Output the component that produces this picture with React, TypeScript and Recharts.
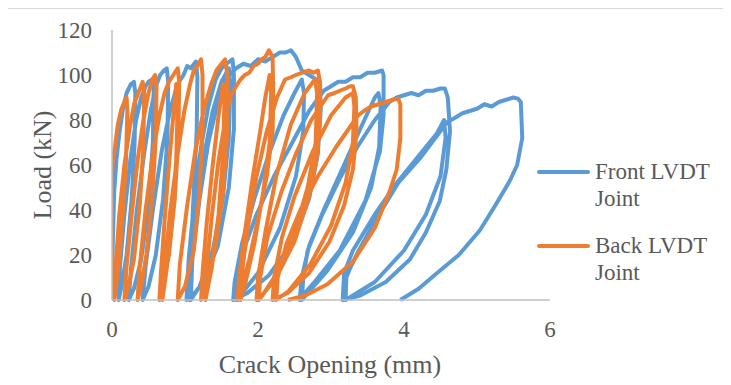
import { LineChart, Line, XAxis, YAxis, Legend, Label } from "recharts";

// crack opening (mm), load (kN), one array per cycle
const frontC1 = [
  [0, 0], [0.01, 25], [0.03, 48], [0.06, 62], [0.1, 74], [0.15, 85], [0.2, 92], [0.26, 96], [0.3, 97],
  [0.32, 92], [0.31, 70], [0.27, 45], [0.2, 20], [0.13, 6], [0.09, 0],
];
const frontC2 = [
  [0.11, 15], [0.17, 38], [0.25, 62], [0.33, 80], [0.4, 90], [0.46, 95], [0.5, 97], [0.55, 98],
  [0.57, 93], [0.56, 70], [0.5, 42], [0.4, 18], [0.3, 5], [0.23, 0],
];
const frontC3 = [
  [0.26, 14], [0.34, 40], [0.44, 65], [0.53, 84], [0.6, 95], [0.66, 100], [0.71, 102], [0.75, 103],
  [0.77, 97], [0.76, 72], [0.7, 45], [0.6, 20], [0.5, 6], [0.42, 0],
];
const frontC4 = [
  [0.46, 15], [0.56, 40], [0.68, 66], [0.8, 85], [0.9, 96], [0.98, 100], [1.03, 104], [1.08, 103], [1.15, 106],
  [1.17, 99], [1.16, 75], [1.12, 48], [1.08, 22], [1.04, 6], [1.02, 0],
];
const frontC5 = [
  [1.05, 18], [1.13, 45], [1.22, 68], [1.32, 86], [1.42, 98], [1.5, 103], [1.57, 105], [1.65, 107],
  [1.67, 100], [1.67, 76], [1.6, 50], [1.45, 24], [1.25, 8], [1.06, 0],
];
const frontC5b = [
  [1.08, 14], [1.16, 40], [1.26, 64], [1.38, 84], [1.5, 97], [1.6, 103],
  [1.62, 96], [1.6, 72], [1.52, 46], [1.38, 22], [1.2, 6], [1.08, 0],
];
const frontC6 = [
  [1.1, 18], [1.2, 45], [1.32, 70], [1.45, 88], [1.58, 99], [1.7, 103], [1.8, 105], [1.9, 104], [2.0, 107],
  [2.1, 106], [2.2, 108], [2.3, 110], [2.38, 110], [2.45, 111], [2.52, 108], [2.6, 102], [2.7, 100], [2.8, 98],
  [2.85, 96], [2.86, 85], [2.82, 65], [2.7, 45], [2.48, 26], [2.15, 11], [1.85, 3], [1.66, 0],
];
const frontC6b = [
  [1.68, 8], [1.78, 25], [1.95, 45], [2.15, 65], [2.35, 82], [2.5, 92], [2.6, 98],
  [2.63, 92], [2.62, 75], [2.52, 55], [2.3, 32], [2.0, 12], [1.78, 3], [1.7, 0],
];
const frontC7 = [
  [1.72, 10], [1.8, 22], [1.98, 38], [2.22, 55], [2.47, 70], [2.7, 84], [2.9, 93], [3.0, 95], [3.1, 97],
  [3.2, 97], [3.3, 99], [3.4, 99], [3.5, 101], [3.6, 101], [3.7, 102],
  [3.72, 100], [3.72, 82], [3.67, 66], [3.47, 44], [3.12, 22], [2.8, 9], [2.64, 3], [2.57, 0],
];
const frontC7b = [
  [2.6, 10], [2.7, 24], [2.9, 40], [3.15, 58], [3.4, 76], [3.6, 90], [3.65, 92],
  [3.68, 86], [3.66, 68], [3.55, 50], [3.3, 30], [2.95, 13], [2.68, 3], [2.6, 0],
];
const frontC8 = [
  [2.62, 10], [2.68, 22], [2.88, 38], [3.12, 54], [3.36, 68], [3.6, 80], [3.8, 88], [3.9, 90], [4.0, 91],
  [4.1, 92], [4.2, 91], [4.3, 93], [4.4, 93], [4.5, 94], [4.56, 94],
  [4.6, 90], [4.63, 75], [4.58, 58], [4.49, 44], [4.3, 30], [4.08, 18], [3.75, 8], [3.4, 2], [3.16, 0],
];
const frontC8b = [
  [3.18, 12], [3.3, 22], [3.6, 38], [3.9, 52], [4.2, 64], [4.45, 74], [4.55, 80],
  [4.57, 72], [4.5, 55], [4.3, 38], [4.0, 22], [3.6, 8], [3.25, 1], [3.2, 0],
];
const frontC9 = [
  [3.21, 10], [3.26, 14], [3.38, 22], [3.62, 36], [3.92, 52], [4.22, 63], [4.59, 79], [4.7, 81], [4.8, 83],
  [4.9, 84], [5.0, 85], [5.1, 87], [5.2, 86], [5.3, 88], [5.4, 89], [5.5, 90], [5.56, 89.5],
  [5.6, 88], [5.62, 72], [5.55, 60], [5.45, 53], [5.25, 42], [5.04, 31], [4.75, 20], [4.49, 13], [4.2, 5], [3.95, 0],
];

const backC1 = [
  [0, 0], [0, 30], [0, 55], [0.01, 62], [0.04, 68], [0.08, 78], [0.13, 85], [0.17, 88], [0.2, 90],
  [0.21, 84], [0.19, 60], [0.14, 35], [0.09, 15], [0.05, 4], [0.03, 0],
];
const backC2 = [
  [0.05, 15], [0.1, 38], [0.17, 60], [0.25, 78], [0.31, 88], [0.36, 92], [0.42, 97],
  [0.44, 92], [0.43, 68], [0.38, 42], [0.3, 18], [0.22, 5], [0.17, 0],
];
const backC3 = [
  [0.2, 15], [0.27, 38], [0.35, 62], [0.43, 80], [0.5, 92], [0.55, 98], [0.59, 100],
  [0.61, 95], [0.6, 72], [0.55, 45], [0.47, 20], [0.4, 6], [0.35, 0],
];
const backC4 = [
  [0.38, 15], [0.46, 40], [0.56, 65], [0.65, 82], [0.72, 92], [0.78, 97], [0.84, 100], [0.9, 103],
  [0.92, 97], [0.91, 72], [0.86, 45], [0.78, 20], [0.7, 6], [0.65, 0],
];
const backC4b = [
  [0.67, 12], [0.72, 35], [0.78, 60], [0.84, 82], [0.88, 96],
  [0.9, 88], [0.88, 62], [0.82, 36], [0.75, 14], [0.69, 0],
];
const backC5 = [
  [0.72, 15], [0.8, 40], [0.9, 65], [0.99, 84], [1.07, 96], [1.12, 102], [1.17, 104], [1.22, 107],
  [1.24, 100], [1.24, 75], [1.2, 48], [1.12, 22], [1.0, 6], [0.9, 0],
];
const backC6 = [
  [0.93, 16], [1.03, 42], [1.14, 66], [1.26, 85], [1.36, 96], [1.43, 102], [1.5, 105], [1.55, 107],
  [1.58, 100], [1.58, 75], [1.52, 48], [1.42, 24], [1.3, 8], [1.22, 0],
];
const backC6b = [
  [1.24, 12], [1.3, 35], [1.38, 60], [1.46, 82], [1.52, 96],
  [1.54, 88], [1.52, 64], [1.46, 38], [1.37, 15], [1.28, 0],
];
const backC7 = [
  [1.3, 15], [1.37, 38], [1.46, 62], [1.55, 80], [1.63, 91], [1.7, 95], [1.76, 98], [1.82, 100], [1.88, 101],
  [1.94, 104], [2.0, 105], [2.05, 107], [2.1, 108], [2.15, 111],
  [2.2, 108], [2.21, 90], [2.2, 75], [2.12, 55], [2.0, 36], [1.88, 18], [1.78, 6], [1.72, 0],
];
const backC7b = [
  [1.74, 10], [1.82, 30], [1.93, 55], [2.03, 75], [2.1, 90], [2.16, 100],
  [2.18, 92], [2.16, 70], [2.07, 48], [1.95, 25], [1.83, 8], [1.76, 0],
];
const backC8 = [
  [1.78, 12], [1.86, 32], [1.98, 55], [2.12, 75], [2.26, 90], [2.37, 98], [2.45, 99], [2.52, 100], [2.6, 101],
  [2.7, 102], [2.76, 101], [2.82, 102],
  [2.85, 97], [2.85, 80], [2.8, 62], [2.68, 44], [2.5, 26], [2.25, 10], [2.08, 3], [1.98, 0],
];
const backC8b = [
  [2.0, 10], [2.1, 30], [2.25, 55], [2.45, 78], [2.64, 92], [2.78, 98],
  [2.81, 92], [2.79, 70], [2.68, 50], [2.5, 30], [2.26, 12], [2.06, 2], [2.01, 0],
];
const backC9 = [
  [2.03, 10], [2.13, 28], [2.32, 48], [2.52, 65], [2.73, 80], [2.96, 91], [3.05, 92], [3.12, 93], [3.2, 94],
  [3.26, 95], [3.3, 95],
  [3.34, 90], [3.35, 75], [3.3, 58], [3.18, 42], [2.98, 26], [2.7, 12], [2.4, 3], [2.2, 0],
];
const backC9b = [
  [2.22, 10], [2.33, 28], [2.5, 46], [2.75, 66], [3.0, 82], [3.2, 90], [3.3, 92],
  [3.32, 86], [3.3, 70], [3.2, 52], [3.0, 33], [2.72, 16], [2.42, 4], [2.25, 0],
];
const backC10 = [
  [2.27, 10], [2.39, 25], [2.58, 40], [2.82, 55], [3.07, 68], [3.37, 82], [3.45, 84], [3.55, 86], [3.65, 87],
  [3.75, 88], [3.85, 89], [3.92, 89.5],
  [3.95, 87], [3.95, 72], [3.9, 58], [3.8, 48], [3.6, 32], [3.3, 17], [2.95, 7], [2.65, 2], [2.41, 0],
];

const xTicks = [0, 2, 4, 6];
const yTicks = [0, 20, 40, 60, 80, 100, 120];

const toPoints = (cycles: number[][][]) => cycles.flat().map(([x, y]) => ({ x, y }));

const frontData = toPoints([
  frontC1, frontC2, frontC3, frontC4, frontC5, frontC5b, frontC6, frontC6b, frontC7, frontC7b, frontC8, frontC8b, frontC9,
]);
const backData = toPoints([
  backC1, backC2, backC3, backC4, backC4b, backC5, backC6, backC6b, backC7, backC7b, backC8, backC8b, backC9, backC9b, backC10,
]);

const BLUE = "#5B9BD5";
const ORANGE = "#ED7D31";
const AXIS = "#BFBFBF";
const TEXT = "#595959";
const FONT = "'Liberation Serif', 'Times New Roman', serif";

const legendItems = [
  { top: "Front LVDT", bottom: "Joint", color: BLUE },
  { top: "Back LVDT", bottom: "Joint", color: ORANGE },
];

const LegendBox = () => (
  <div style={{ fontFamily: FONT, fontSize: 23, lineHeight: "27px", color: TEXT }}>
    {legendItems.map((item) => (
      <div key={item.top} style={{ display: "flex", alignItems: "flex-start", marginBottom: 20 }}>
        <div
          style={{
            width: 53,
            height: 4,
            borderRadius: 2,
            background: item.color,
            marginTop: 12,
            marginRight: 5,
          }}
        />
        <div>
          {item.top}
          <br />
          {item.bottom}
        </div>
      </div>
    ))}
  </div>
);

const App = () => {
  return (
    <div
      style={{
        width: 717,
        height: 376,
        marginLeft: -1,
        borderTop: "1px solid #D9D9D9",
        borderLeft: "1px solid #D9D9D9",
        borderRight: "1px solid #D9D9D9",
        boxSizing: "border-box",
        background: "#fff",
      }}
    >
      <LineChart width={715} height={374} margin={{ top: 21, right: 173, left: 0, bottom: 0 }}>
        <XAxis
          type="number"
          dataKey="x"
          domain={[0, 6]}
          ticks={xTicks}
          height={83}
          tickSize={0}
          tickMargin={21}
          axisLine={{ stroke: AXIS, strokeWidth: 1.5 }}
          tick={{ fill: TEXT, fontSize: 23, fontFamily: FONT }}
          allowDataOverflow
        >
          <Label
            content={() => (
              <text x={322} y={364} textAnchor="middle" fill={TEXT} fontSize={26} fontFamily={FONT}>
                Crack Opening (mm)
              </text>
            )}
          />
        </XAxis>
        <YAxis
          type="number"
          dataKey="y"
          domain={[0, 120]}
          ticks={yTicks}
          width={104}
          tickSize={0}
          tickMargin={20}
          axisLine={{ stroke: AXIS, strokeWidth: 1.5 }}
          tick={{ fill: TEXT, fontSize: 23, fontFamily: FONT }}
        >
          <Label
            content={() => (
              <text
                x={34}
                y={156}
                transform="rotate(-90, 34, 156)"
                textAnchor="middle"
                dominantBaseline="central"
                fill={TEXT}
                fontSize={26}
                fontFamily={FONT}
              >
                Load (kN)
              </text>
            )}
          />
        </YAxis>
        <Legend
          layout="vertical"
          align="center"
          verticalAlign="middle"
          content={<LegendBox />}
          wrapperStyle={{ left: 529, top: 149, width: 186 }}
        />
        <Line
          data={frontData}
          dataKey="y"
          name="Front LVDT Joint"
          type="linear"
          stroke={BLUE}
          strokeWidth={4}
          strokeLinejoin="round"
          dot={false}
          activeDot={false}
          isAnimationActive={false}
        />
        <Line
          data={backData}
          dataKey="y"
          name="Back LVDT Joint"
          type="linear"
          stroke={ORANGE}
          strokeWidth={4}
          strokeLinejoin="round"
          dot={false}
          activeDot={false}
          isAnimationActive={false}
        />
      </LineChart>
    </div>
  );
};

export default App;
